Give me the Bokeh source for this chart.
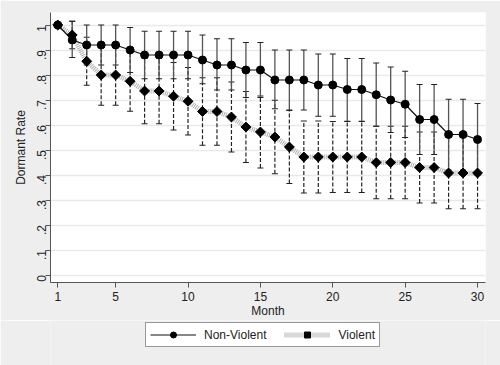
import math
from bokeh.plotting import figure
from bokeh.layouts import column
from bokeh.models import (ColumnDataSource, Range1d, FixedTicker, Whisker, TeeHead,
                          Legend, LegendItem)
from bokeh.embed import file_html
from bokeh.resources import INLINE

months = list(range(1, 31))
nonviolent = [1.0, 0.94, 0.92, 0.92, 0.92, 0.90, 0.88, 0.88, 0.88, 0.88,
              0.86, 0.84, 0.84, 0.82, 0.82, 0.78, 0.78, 0.78, 0.76, 0.76,
              0.742, 0.742, 0.721, 0.70, 0.683, 0.622, 0.622, 0.562, 0.562, 0.542]
nonviolent_lo = [1.0, 0.87, 0.84, 0.84, 0.84, 0.81, 0.785, 0.785, 0.785, 0.785,
                 0.765, 0.74, 0.74, 0.71, 0.71, 0.665, 0.66, 0.66, 0.635, 0.635,
                 0.615, 0.615, 0.595, 0.57, 0.55, 0.482, 0.482, 0.42, 0.42, 0.40]
nonviolent_hi = [1.0, 1.015, 1.0, 1.0, 1.0, 0.99, 0.975, 0.975, 0.975, 0.975,
                 0.96, 0.945, 0.945, 0.93, 0.93, 0.90, 0.90, 0.90, 0.884, 0.884,
                 0.866, 0.866, 0.848, 0.832, 0.815, 0.762, 0.762, 0.703, 0.703, 0.686]
violent = [1.0, 0.96, 0.855, 0.80, 0.80, 0.775, 0.736, 0.736, 0.715, 0.695,
           0.654, 0.654, 0.632, 0.592, 0.572, 0.552, 0.512, 0.472, 0.472, 0.472,
           0.472, 0.472, 0.45, 0.45, 0.45, 0.43, 0.43, 0.408, 0.408, 0.408]
violent_lo = [1.0, 0.905, 0.759, 0.679, 0.679, 0.655, 0.605, 0.605, 0.58, 0.56,
              0.519, 0.519, 0.492, 0.45, 0.428, 0.405, 0.366, 0.328, 0.328, 0.33,
              0.33, 0.33, 0.305, 0.305, 0.305, 0.288, 0.288, 0.265, 0.265, 0.265]
violent_hi = [1.0, 1.015, 0.951, 0.921, 0.921, 0.895, 0.867, 0.867, 0.85, 0.83,
              0.789, 0.789, 0.772, 0.734, 0.716, 0.699, 0.658, 0.616, 0.616, 0.614,
              0.614, 0.614, 0.595, 0.595, 0.595, 0.572, 0.572, 0.551, 0.551, 0.551]

x_ticks = [1, 5, 10, 15, 20, 25, 30]
y_ticks = [0, 0.1, 0.2, 0.3, 0.4, 0.5, 0.6, 0.7, 0.8, 0.9, 1.0]
y_tick_labels = ["0", ".1", ".2", ".3", ".4", ".5", ".6", ".7", ".8", ".9", "1"]
series_names = ["Non-Violent", "Violent"]

FONT = "Liberation Sans"
TXT = "#222222"
BG = "#eeeeee"

# styles
NV_LINE = dict(line_color="#111111", line_width=1.2)
V_LINE = dict(line_color="#b0b0b0", line_width=5, line_dash="1 1")
NV_PT = dict(marker="circle", size=8, fill_color="black", line_color="black")
V_PT = dict(marker="square", angle=math.pi / 4, size=7, fill_color="black", line_color="black")

src = ColumnDataSource(dict(m=months, nv=nonviolent, v=violent))
err = ColumnDataSource(dict(m=months[1:], nlo=nonviolent_lo[1:], nhi=nonviolent_hi[1:],
                            vlo=violent_lo[1:], vhi=violent_hi[1:]))

p = figure(width=500, height=320, output_backend="svg", toolbar_location=None,
           x_range=Range1d(0.5, 30.55), y_range=Range1d(-0.03, 1.05),
           min_border_left=50, min_border_right=15, min_border_top=12, min_border_bottom=38)
p.background_fill_color = "white"
p.border_fill_color = BG
p.outline_line_color = None

# axes
p.xaxis.ticker = FixedTicker(ticks=x_ticks)
p.yaxis.ticker = FixedTicker(ticks=y_ticks)
p.yaxis.major_label_overrides = {t: l for t, l in zip(y_ticks, y_tick_labels)}
p.yaxis.major_label_orientation = math.pi / 2
p.xaxis.axis_label = "Month"
p.yaxis.axis_label = "Dormant Rate"
for ax in (p.xaxis, p.yaxis):
    ax.axis_line_color = "#555555"
    ax.major_tick_line_color = "#555555"
    ax.major_tick_out = 5
    ax.major_tick_in = 0
    ax.minor_tick_line_color = None
    ax.major_label_text_font = FONT
    ax.major_label_text_font_size = "12px"
    ax.major_label_text_color = TXT
    ax.axis_label_text_font = FONT
    ax.axis_label_text_font_size = "12px"
    ax.axis_label_text_font_style = "normal"
    ax.axis_label_text_color = TXT
p.xaxis.major_label_standoff = 4
p.xaxis.axis_label_standoff = 0
p.yaxis.major_label_standoff = 4
p.yaxis.axis_label_standoff = 2

p.xgrid.grid_line_color = None
p.ygrid.ticker = FixedTicker(ticks=y_ticks)
p.ygrid.grid_line_color = "#e9e9e9"
p.ygrid.grid_line_width = 1.5

# violent series
p.line("m", "v", source=src, **V_LINE)
vw = Whisker(source=err, base="m", lower="vlo", upper="vhi", dimension="height",
             line_color="#222222", line_width=1.2, line_dash="4 2",
             upper_head=TeeHead(size=6, line_color="#222222", line_width=1.2),
             lower_head=TeeHead(size=6, line_color="#222222", line_width=1.2))
p.add_layout(vw)

# non-violent series
nw = Whisker(source=err, base="m", lower="nlo", upper="nhi", dimension="height",
             line_color="#555555", line_width=1.3,
             upper_head=TeeHead(size=6, line_color="#222222", line_width=1.2),
             lower_head=TeeHead(size=6, line_color="#222222", line_width=1.2))
p.add_layout(nw)
p.line("m", "nv", source=src, **NV_LINE)

p.scatter("m", "v", source=src, **V_PT)
p.scatter("m", "nv", source=src, **NV_PT)

# legend strip below the chart (its renderers fall outside its ranges; only the legend shows)
lg = figure(width=500, height=45, output_backend="svg", toolbar_location=None,
            x_range=Range1d(100, 101), y_range=Range1d(100, 101),
            x_axis_type=None, y_axis_type=None,
            min_border_left=50, min_border_right=15, min_border_top=0, min_border_bottom=0)
lg.background_fill_color = BG
lg.border_fill_color = BG
lg.outline_line_color = None
lg.xgrid.grid_line_color = None
lg.ygrid.grid_line_color = None
l_nv_line = lg.line("m", "nv", source=src, **NV_LINE)
l_nv_pt = lg.scatter("m", "nv", source=src, **NV_PT)
l_v_line = lg.line("m", "v", source=src, **V_LINE)
l_v_pt = lg.scatter("m", "v", source=src, **V_PT)

legend = Legend(items=[LegendItem(label=series_names[0], renderers=[l_nv_line, l_nv_pt]),
                       LegendItem(label=series_names[1], renderers=[l_v_line, l_v_pt])],
                orientation="horizontal", location=(95, 18),
                label_text_font=FONT, label_text_font_size="12px", label_text_color=TXT,
                glyph_width=46, glyph_height=15, label_height=15, label_standoff=8,
                spacing=18, padding=4, margin=0,
                border_line_color="#333333", border_line_width=1,
                background_fill_color="white", background_fill_alpha=1.0)
lg.add_layout(legend, "center")

layout = column(p, lg, spacing=0)
open("out.html", "w").write(file_html(layout, INLINE))
